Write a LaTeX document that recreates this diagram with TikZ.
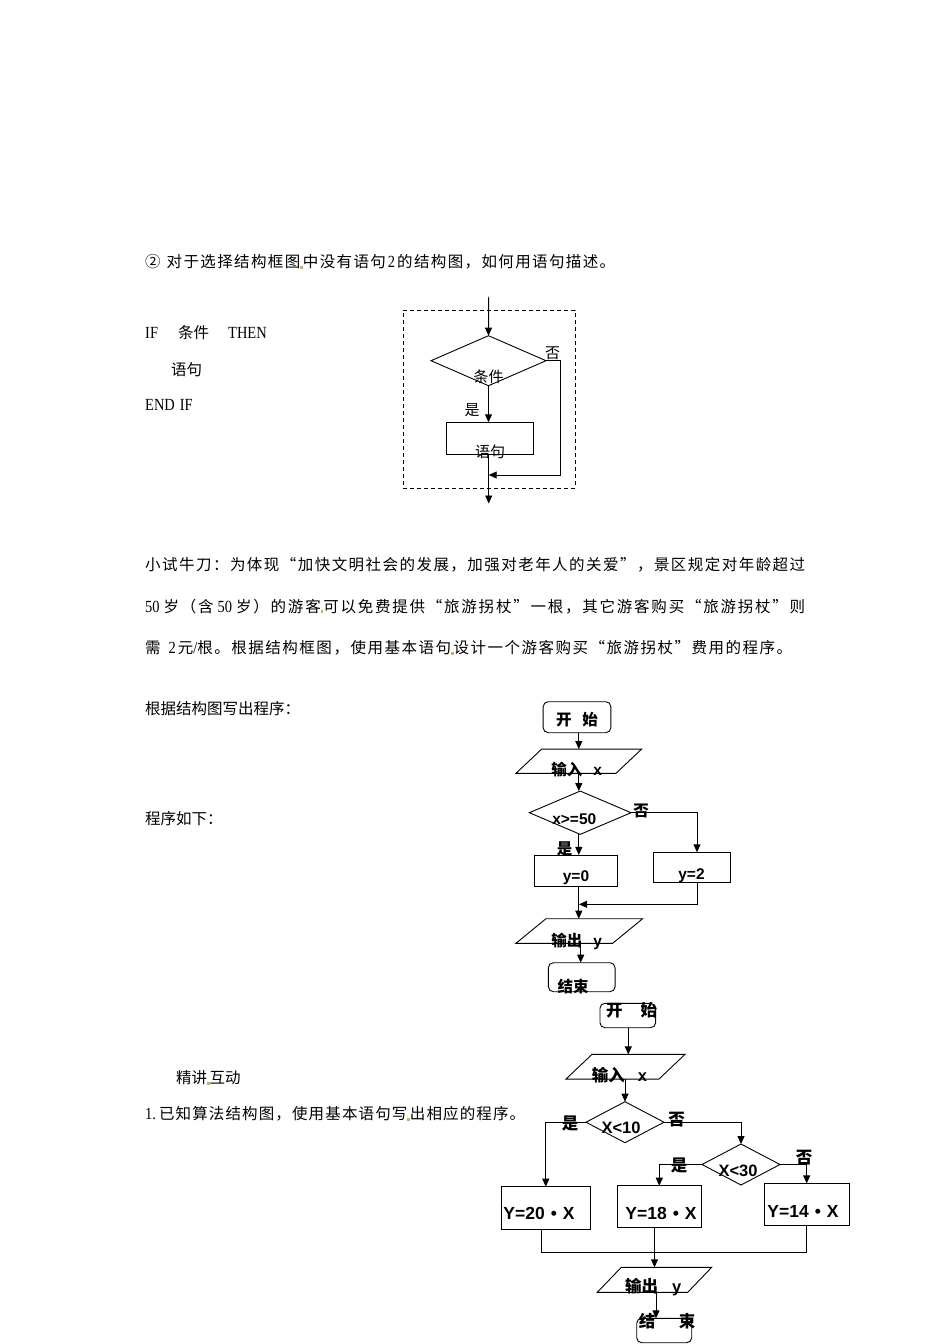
\documentclass[tikz,border=0pt]{standalone}
\usepackage{fontspec}
\usetikzlibrary{shapes.geometric,arrows.meta}
\setmainfont{Liberation Serif}
\newfontfamily\cjk{Noto Sans CJK SC}
\newfontfamily\lat{Liberation Serif}[FakeStretch=0.85]
\newfontfamily\ari{Liberation Sans}
\newXeTeXintercharclass\cjkcls
\newcount\clsc
\newcommand\setcls[2]{\clsc=#1\relax
  \loop \XeTeXcharclass\clsc=\cjkcls \ifnum\clsc<#2\relax \advance\clsc 1 \repeat}
\setcls{"3000}{"303F}
\setcls{"4E00}{"9FFF}
\setcls{"FF00}{"FFEF}
\setcls{"201C}{"201D}
\setcls{"2460}{"2473}
\XeTeXinterchartoks\cjkcls\cjkcls={\hskip0pt plus 1pt\relax}
\XeTeXinterchartokenstate=1
\definecolor{dotc}{RGB}{205,175,95}
\newcommand\dotmk{\textcolor{dotc}{\rule[-1pt]{2.5pt}{3pt}}}
\newcommand\jl[2]{\makebox[#1][s]{#2}}
\newcommand\lt[1]{{\lat\fontsize{17}{18}\selectfont #1}}
\newcommand\fcj{\cjk\bfseries}
\newcommand\fla{\ari\bfseries}
\newcommand\parashape[6]{%
  \node[hold,minimum width=#4pt,minimum height=#5pt] (#1) at (#2,#3) {};
  \draw[line width=0.9pt] ([xshift=#6pt]#1.north west) -- (#1.north east) -- ([xshift=-#6pt]#1.south east) -- (#1.south west) -- cycle;}
\begin{document}
\begin{tikzpicture}[x=1pt,y=-1pt,
  ln/.style={line width=0.9pt},
  arr/.style={line width=0.9pt,-{Triangle[length=8pt,width=7pt]}},
  frame/.style={draw,line width=0.9pt,inner sep=0pt,outer sep=0pt},
  rbox/.style={frame,rounded corners=5pt},
  dia/.style={frame,diamond},
  hold/.style={inner sep=0pt,outer sep=0pt},
  bodyt/.style={inner sep=0pt,anchor=west,font=\cjk\fontsize{15.5}{18}\selectfont},
  latt/.style={inner sep=0pt,anchor=west,font=\lat\fontsize{17}{18}\selectfont},
  lbl/.style={inner sep=0pt,font=\cjk\fontsize{15}{18}\selectfont},
  fa/.style={inner sep=0pt,font=\fontsize{15.5}{17}\selectfont},
  fb/.style={inner sep=0pt,font=\fontsize{16.5}{18}\selectfont},
  fy/.style={inner sep=0pt,font=\fontsize{17.5}{19}\selectfont}]
\useasboundingbox (0,0) rectangle (950,1344);
\fill[white] (0,0) rectangle (950,1344);

% ---------- body text ----------
\node[bodyt] (t0) at (145,262) {\jl{470pt}{②\kern6pt 对于选择结构框图\dotmk 中没有语句\kern2pt\lt{2}\kern2pt 的结构图，如何用语句描述。}};
\node[latt] (tif) at (145,333) {IF};
\node[bodyt] (tcond) at (178,333) {条件};
\node[latt] (tthen) at (228,333) {THEN};
\node[bodyt] (tstmt) at (171,370) {语句};
\node[latt] (tend) at (145,405) {END\kern5pt IF};

\node[bodyt] (p1) at (145,565) {\jl{660pt}{小试牛刀：为体现“加快文明社会的发展，加强对老年人的关爱”，景区规定对年龄超过}};
\node[bodyt] (p2) at (145,606.5) {\jl{660pt}{\lt{50}\kern4pt 岁（含\kern4pt\lt{50}\kern4pt 岁）的游客\dotmk 可以免费提供“旅游拐杖”一根，其它游客购买“旅游拐杖”则}};
\node[bodyt] (p3) at (145,648) {\jl{647pt}{需\kern8pt\lt{2}\kern2pt 元\lt{/}根。根据结构框图，使用基本语句\dotmk 设计一个游客购买“旅游拐杖”费用的程序。}};
\node[bodyt] (q1) at (145,709) {根据结构图写出程序：};
\node[bodyt] (q2) at (145,819) {程序如下：};
\node[bodyt] (q3) at (176,1078) {精讲\dotmk 互动};
\node[bodyt] (q4) at (145,1114) {\jl{380pt}{\lt{1.}\kern3pt 已知算法结构图，使用基本语句写\dotmk 出相应的程序。}};

% ---------- top structure ----------
\node[draw,line width=0.9pt,dash pattern=on 4pt off 3pt,minimum width=172pt,minimum height=178pt,inner sep=0pt] (frm) at (489,399) {};
\coordinate (tin) at (488.7,296.7);
\node[dia,minimum width=115pt,minimum height=50pt] (dT) at (488.5,360.7) {};
\node[frame,minimum width=87.3pt,minimum height=32pt] (sT) at (489.7,438.3) {};
\coordinate (tr1) at (560.7,360.7);
\coordinate (tr2) at (560.7,475);
\coordinate (tm) at (488.7,475);
\coordinate (tout) at (488.7,503.5);
\draw[arr] (tin) -- (dT.north);
\draw[arr] (dT.south) -- (dT.south |- sT.north);
\draw[arr] (dT.east) -- (tr1) -- (tr2) -- (tm);
\draw[arr] (sT.south -| tout) -- (tout);
\node[lbl] (lT1) at (488.5,376.5) {条件};
\node[lbl] (lT2) at (552.5,353.5) {否};
\node[lbl] (lT3) at (472,410) {是};
\node[lbl] (lT4) at (490,452) {语句};

% ---------- flowchart 1 ----------
\node[rbox,minimum width=67.7pt,minimum height=31pt] (st1) at (577,717.2) {};
\parashape{in1}{578.8}{761.2}{125.7}{24.3}{25.7}
\node[dia,minimum width=101.7pt,minimum height=43.3pt] (d1) at (580.2,812.7) {};
\node[frame,minimum width=83pt,minimum height=31.7pt] (b0) at (575.8,870.8) {};
\node[frame,minimum width=77.4pt,minimum height=30pt] (b2) at (692,867.3) {};
\parashape{out1}{579.3}{931}{126.7}{24.6}{30}
\node[rbox,minimum width=66.7pt,minimum height=29pt] (en1) at (581.7,977.2) {};
\coordinate (j1) at (697,904.3);
\coordinate (j1e) at (579,904.3);

\draw[arr] (st1.south -| in1.north) -- (in1.north);
\draw[arr] (in1.south) -- (in1.south |- d1.north);
\draw[arr] (d1.south -| in1.south) -- (in1.south |- b0.north);
\draw[arr] (d1.east) -- (d1.east -| j1) -- ([xshift=5pt]b2.north);
\draw[arr] (b0.south -| in1.south) -- (in1.south |- out1.north);
\draw[arr] ([xshift=5pt]b2.south) -- (j1) -- (j1e);
\draw[arr] (out1.south -| 580.7,0) -- (en1.north -| 580.7,0);

\node[fa] (l1a) at (577,719.5) {\fcj 开\hspace{11pt}始};
\node[fa] (l1b) at (576.7,770) {{\fcj 输入}\hspace{11pt}{\fla x}};
\node[fa] (l1c) at (574.3,819) {\fla x>=50};
\node[fa] (l1d) at (641,811) {\fcj 否};
\node[fa] (l1e) at (564.5,849) {\fcj 是};
\node[fa] (l1f) at (576,878) {\fla y=0};
\node[fa] (l1g) at (691.5,875.5) {\fla y=2};
\node[fa] (l1h) at (576.7,941.7) {{\fcj 输出}\hspace{11pt}{\fla y}};
\node[fa] (l1i) at (573,986.5) {\fcj 结束};

% ---------- flowchart 2 ----------
\node[rbox,minimum width=55.7pt,minimum height=24.4pt] (st2) at (627.8,1015.5) {};
\parashape{in2}{625.5}{1066.7}{119}{24.7}{26}
\node[dia,minimum width=78pt,minimum height=41pt] (dA) at (625,1122.2) {};
\node[dia,minimum width=78pt,minimum height=41pt] (dB) at (741,1164.5) {};
\node[frame,minimum width=88.3pt,minimum height=42.6pt] (y20) at (545.8,1208) {};
\node[frame,minimum width=83.3pt,minimum height=41.6pt] (y18) at (659.3,1206.5) {};
\node[frame,minimum width=84.7pt,minimum height=41.7pt] (y14) at (806.7,1204.2) {};
\parashape{out2}{654.5}{1279.8}{114.4}{25}{24}
\node[rbox,minimum width=55pt,minimum height=24.4pt] (en2) at (664.2,1330.5) {};
\coordinate (mY) at (0,1252.3);

\draw[arr] (st2.south -| 628.3,0) -- (in2.north -| 628.3,0);
\draw[arr] (in2.south -| dA.north) -- (dA.north);
\draw[arr] (dA.west) -- (dA.west -| y20.north) -- (y20.north);
\draw[arr] (dA.east) -- (dA.east -| dB.north) -- (dB.north);
\draw[arr] (dB.west) -- (dB.west -| y18.north) -- (y18.north);
\draw[arr] (dB.east) -- (dB.east -| y14.north) -- (y14.north);
\draw[ln] (y20.south -| 541.7,0) -- (mY -| 541.7,0) -- (mY -| y14.south) -- (y14.south);
\draw[arr] (y18.south -| out2.north) -- (out2.north);
\draw[arr] (out2.south -| 656,0) -- (en2.north -| 656,0);

\node[fb] (l2a) at (631.7,1010.7) {\fcj 开\hspace{18pt}始};
\node[fb] (l2b) at (619.5,1075) {{\fcj 输入}\hspace{13pt}{\fla x}};
\node[fb] (l2c) at (621,1128.3) {\fla X<10};
\node[fb] (l2d) at (570,1123) {\fcj 是};
\node[fb] (l2e) at (676.5,1120) {\fcj 否};
\node[fb] (l2f) at (738,1171) {\fla X<30};
\node[fb] (l2g) at (679,1165) {\fcj 是};
\node[fb] (l2h) at (804,1158) {\fcj 否};
\node[fy] (l2i) at (539,1213.3) {\fla Y=20\hspace{6pt}•\hspace{6pt}X};
\node[fy] (l2j) at (661,1213) {\fla Y=18\hspace{6pt}•\hspace{6pt}X};
\node[fy] (l2k) at (803,1211.7) {\fla Y=14\hspace{6pt}•\hspace{6pt}X};
\node[fb] (l2l) at (653.3,1286.7) {{\fcj 输出}\hspace{14pt}{\fla y}};
\node[fb] (l2m) at (647,1321) {\fcj 结};
\node[fb] (l2n) at (687,1321) {\fcj 束};
\end{tikzpicture}
\end{document}
